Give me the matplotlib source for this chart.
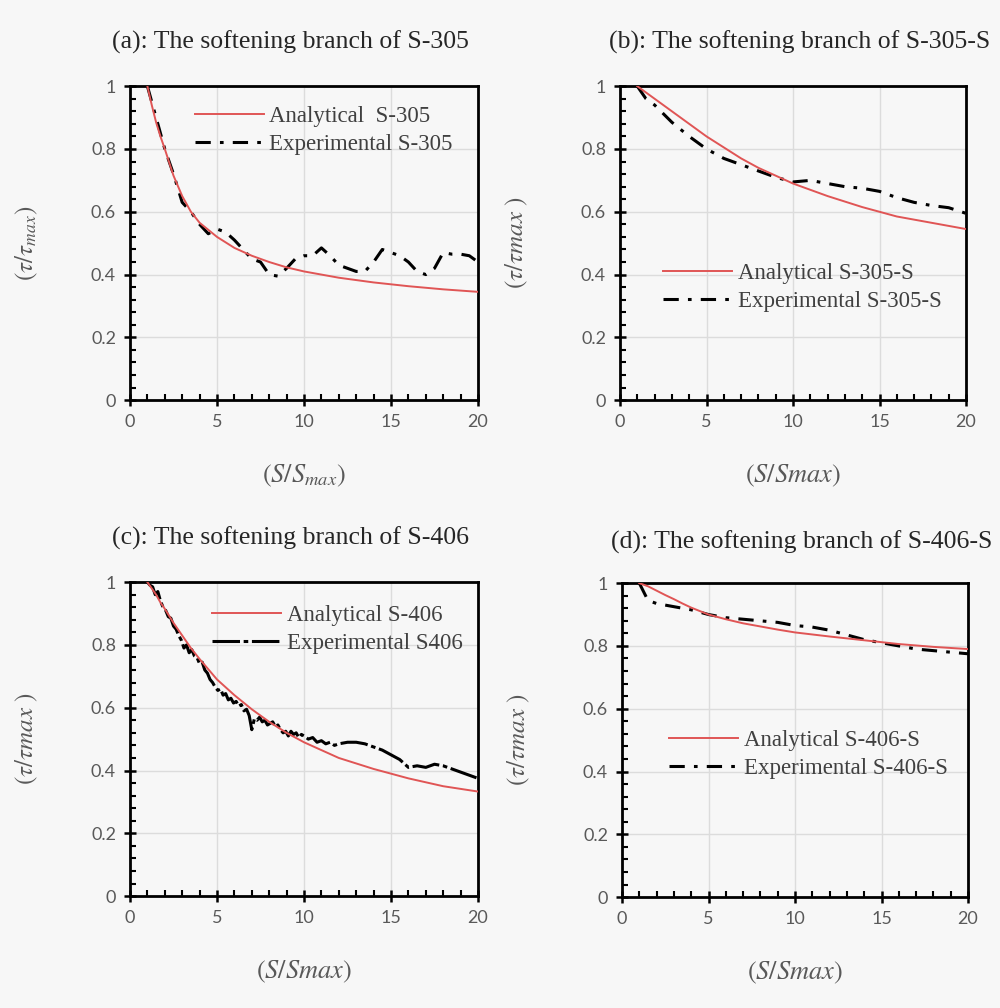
import matplotlib
matplotlib.use('Agg')
from matplotlib import pyplot as plt
from matplotlib.ticker import MultipleLocator

plt.rcParams['mathtext.fontset'] = 'stix'

# ---- data ----
x_an = [1, 1.25, 1.5, 1.75, 2, 2.5, 3, 3.5, 4, 5, 6, 7, 8, 9, 10, 12, 14, 16, 18, 20]

an_a = [1.0, 0.94, 0.885, 0.84, 0.80, 0.715, 0.65, 0.60, 0.565, 0.52, 0.485, 0.46, 0.44, 0.423,
        0.41, 0.39, 0.375, 0.363, 0.353, 0.345]
an_b = [1.0, 0.99, 0.98, 0.97, 0.96, 0.94, 0.92, 0.90, 0.88, 0.84, 0.805, 0.77, 0.74, 0.715,
        0.69, 0.65, 0.615, 0.585, 0.565, 0.545]
an_c = [1.0, 0.98, 0.96, 0.935, 0.915, 0.87, 0.83, 0.79, 0.755, 0.69, 0.64, 0.595, 0.555, 0.52,
        0.49, 0.44, 0.405, 0.375, 0.35, 0.333]
an_d = [1.0, 0.995, 0.99, 0.983, 0.976, 0.962, 0.949, 0.935, 0.922, 0.90, 0.885, 0.872, 0.862,
        0.852, 0.843, 0.83, 0.818, 0.806, 0.797, 0.79]

x_ea = [1, 1.5, 2, 2.5, 3, 3.5, 4, 4.5, 5, 5.5, 6, 6.5, 7, 7.5, 8, 8.5, 9, 9.5, 10, 10.5,
        11, 11.5, 12, 12.5, 13, 13.5, 14, 14.5, 15, 15.5, 16, 16.5, 17, 17.5, 18, 18.5, 19, 19.5, 20]
exp_a = [1.0, 0.9, 0.8, 0.72, 0.63, 0.6, 0.56, 0.53, 0.545, 0.535, 0.51, 0.48, 0.45, 0.44, 0.40, 0.395,
         0.42, 0.45, 0.46, 0.46, 0.485, 0.46, 0.43, 0.42, 0.41, 0.41, 0.44, 0.48, 0.47, 0.46,
         0.44, 0.41, 0.40, 0.42, 0.47, 0.465, 0.465, 0.46, 0.44]

x_eb = [1, 1.5, 2, 3, 4, 5, 6, 7, 8, 9, 10, 11, 12, 13, 14, 15, 16, 17, 18, 19, 20]
exp_b = [1.0, 0.96, 0.94, 0.885, 0.84, 0.80, 0.77, 0.75, 0.73, 0.71, 0.695, 0.70, 0.69, 0.68,
         0.675, 0.665, 0.645, 0.63, 0.62, 0.613, 0.595]

x_ec = [1, 1.15, 1.3, 1.45, 1.6, 1.75, 1.9, 2.05, 2.2, 2.35, 2.5, 2.65, 2.8, 2.95, 3.1, 3.25,
        3.4, 3.55, 3.7, 3.85, 4, 4.15, 4.3, 4.45, 4.6, 4.75, 4.9, 5.05, 5.2, 5.35, 5.5, 5.65,
        5.8, 5.95, 6.1, 6.25, 6.4, 6.55, 6.7, 6.85, 7, 7.15, 7.3, 7.45, 7.6, 7.75, 7.9, 8.05,
        8.2, 8.35, 8.5, 8.65, 8.8, 8.95, 9.1, 9.25, 9.4, 9.55, 9.7, 9.85, 10, 10.25, 10.5,
        10.75, 11, 11.25, 11.5, 11.75, 12, 12.5, 13, 13.5, 14, 14.5, 15, 15.5, 16, 16.5,
        17, 17.5, 18, 18.5, 19, 19.5, 20]
exp_c = [1.0, 0.99, 0.985, 0.96, 0.97, 0.94, 0.92, 0.91, 0.89, 0.885, 0.86, 0.85, 0.83,
         0.815, 0.79, 0.80, 0.775, 0.785, 0.765, 0.76, 0.74, 0.745, 0.72, 0.71, 0.69,
         0.68, 0.665, 0.655, 0.66, 0.64, 0.645, 0.625, 0.63, 0.615, 0.62, 0.605, 0.61,
         0.59, 0.595, 0.575, 0.53, 0.565, 0.56, 0.57, 0.555, 0.56, 0.545, 0.55, 0.555,
         0.54, 0.545, 0.53, 0.52, 0.525, 0.51, 0.525, 0.515, 0.52, 0.505, 0.515, 0.51,
         0.5, 0.505, 0.49, 0.495, 0.485, 0.49, 0.48, 0.485, 0.49, 0.49, 0.485, 0.475,
         0.465, 0.45, 0.435, 0.41, 0.415, 0.41, 0.42, 0.415, 0.405, 0.395, 0.385, 0.375]

x_ed = [1, 1.5, 2, 3, 4, 5, 6, 7, 8, 9, 10, 11, 12, 13, 14, 15, 16, 17, 18, 19, 20]
exp_d = [1.0, 0.945, 0.935, 0.925, 0.915, 0.90, 0.89, 0.885, 0.88, 0.875, 0.865, 0.86, 0.85,
         0.835, 0.82, 0.81, 0.80, 0.79, 0.785, 0.78, 0.775]

titles = ['(a): The softening branch of S-305', '(b): The softening branch of S-305-S',
          '(c): The softening branch of S-406', '(d): The softening branch of S-406-S']
an_labels = ['Analytical  S-305', 'Analytical S-305-S', 'Analytical S-406', 'Analytical S-406-S']
exp_labels = ['Experimental S-305', 'Experimental S-305-S', 'Experimental S406', 'Experimental S-406-S']
xlabels = [r'$(S/S_{max})$', r'$(S/Smax)$', r'$(S/Smax)$', r'$(S/Smax)$']
ylabels = [r'$(\tau/\tau_{max})$', r'$(\tau/\tau max\ )$', r'$(\tau/\tau max\ )$', r'$(\tau/\tau max\ )$']

bg = '#f7f7f7'
red = '#e05555'
gray_txt = '#595959'

fig = plt.figure(figsize=(10, 10.08), dpi=100, facecolor=bg)

# axes boxes [left, bottom, width, height]
boxes = [[0.130, 0.603, 0.348, 0.3115],
         [0.620, 0.603, 0.346, 0.3115],
         [0.130, 0.111, 0.348, 0.3115],
         [0.622, 0.110, 0.346, 0.3115]]
title_pos = [(0.29, 0.958), (0.80, 0.958), (0.29, 0.466), (0.802, 0.462)]
legend_loc = [(0.16, 0.965), (0.098, 0.465), (0.21, 0.955), (0.11, 0.56)]

an_all = [an_a, an_b, an_c, an_d]
exp_x = [x_ea, x_eb, x_ec, x_ed]
exp_all = [exp_a, exp_b, exp_c, exp_d]

for i in range(4):
    ax = fig.add_axes(boxes[i])
    ax.set_facecolor(bg)
    ax.plot(x_an, an_all[i], color=red, linewidth=1.4, label=an_labels[i], zorder=3)
    if i == 2:
        ax.plot(exp_x[i], exp_all[i], color='black', linewidth=2.2, linestyle=(0, (9, 1.2, 1.5, 1.2)),
                label=exp_labels[i], zorder=2)
    else:
        ax.plot(exp_x[i], exp_all[i], color='black', linewidth=2.2, linestyle=(0, (5, 3, 1.2, 3)),
                label=exp_labels[i], zorder=2)

    ax.set_xlim(0, 20)
    ax.set_ylim(0, 1)
    ax.xaxis.set_major_locator(MultipleLocator(5))
    ax.xaxis.set_minor_locator(MultipleLocator(1))
    ax.yaxis.set_minor_locator(MultipleLocator(0.04))
    ax.set_yticks([0, 0.2, 0.4, 0.6, 0.8, 1.0])
    ax.set_yticklabels(['0', '0.2', '0.4', '0.6', '0.8', '1'])
    ax.grid(True, which='major', color='#dcdcdc', linewidth=1.0)
    ax.set_axisbelow(True)
    for s in ax.spines.values():
        s.set_linewidth(2.0)
        s.set_color('black')
    ax.tick_params(which='major', direction='inout', length=8, width=1.8, color='black',
                   labelsize=13, labelcolor=gray_txt, pad=6)
    ax.tick_params(which='minor', direction='in', length=4, width=1.5, color='black')
    for lab in ax.get_xticklabels() + ax.get_yticklabels():
        lab.set_family('Lato')

    ax.set_xlabel(xlabels[i], fontsize=19, color=gray_txt)
    ax.set_ylabel(ylabels[i], fontsize=18, color=gray_txt)
    ax.xaxis.set_label_coords(0.5, -0.2)
    ax.yaxis.set_label_coords(-0.26, 0.5)

    leg = ax.legend(loc='upper left', bbox_to_anchor=legend_loc[i], frameon=False,
                    prop={'family': 'Liberation Serif', 'size': 16.5}, handlelength=3.0,
                    handletextpad=0.25, labelspacing=0.3, borderaxespad=0)
    for t in leg.get_texts():
        t.set_color('#404040')

    fig.text(title_pos[i][0], title_pos[i][1], titles[i], ha='center', va='center',
             family='Liberation Serif', fontsize=18.5, color='#262626')

fig.savefig('out.png', dpi=100, facecolor=bg)
